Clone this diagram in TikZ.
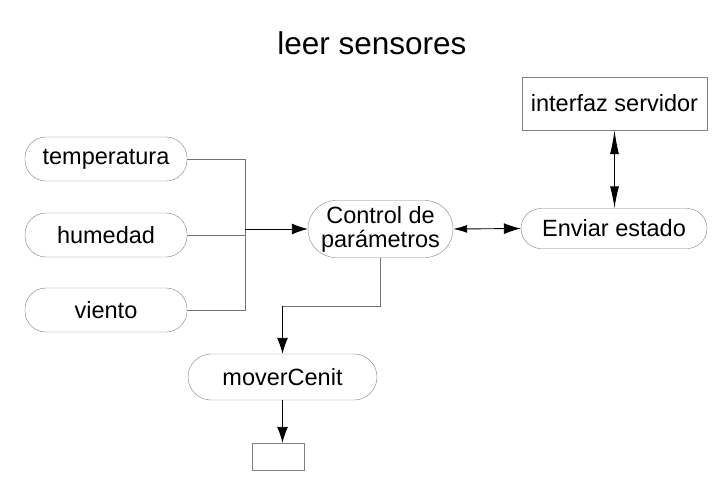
\documentclass[tikz,border=0pt]{standalone}
\usepackage{fontspec}
\setmainfont{Liberation Sans}
\usetikzlibrary{arrows.meta,positioning}

\begin{document}
\begin{tikzpicture}
    [ x=1pt, y=-1pt,
      font={\fontsize{23.5}{25}\selectfont},
      sensor/.style={draw=gray, rounded corners=21pt, minimum width=162pt,
                     minimum height=44pt, inner sep=0pt},
      process/.style={draw=gray, rounded corners=22pt, inner sep=0pt,
                      align=center},
      box/.style={draw=gray, inner sep=0pt},
      feed/.style={gray!90!black, line width=.9pt},
      flow/.style={black, line width=.9pt, -{Latex[length=16pt,width=11pt]}},
      duplex/.style={black, line width=.9pt,
                     {Latex[length=14pt,width=8pt]}-{Latex[length=17pt,width=11pt]}},
      uplink/.style={black, line width=.9pt,
                     {Latex[length=24pt,width=9pt]}-{Latex[length=22pt,width=9pt]}}
    ]
    \useasboundingbox (0, 0) rectangle (719, 479);

    % Title
    \node[font={\fontsize{31.5}{33}\selectfont}] (title) at (372, 43) {leer sensores};

    % Sensors
    \node[sensor] (temperatura) at (106, 159) {temperatura};
    \node[sensor] (humedad) at (106, 235) {humedad};
    \node[sensor] (viento) at (106, 310) {viento};

    % Processes
    \node[process, minimum width=145pt, minimum height=57pt,
          rounded corners=28pt] (control) at (380.5, 229) {Control de\\[-1pt]par\'ametros};
    \node[process, minimum width=186pt, minimum height=40pt,
          rounded corners=20pt] (enviar) at (614, 228.5) {Enviar estado};
    \node[process, minimum width=189pt, minimum height=46pt,
          rounded corners=23pt] (mover) at (282.5, 377) {moverCenit};

    % Boxes
    \node[box, minimum width=185pt, minimum height=53pt] (servidor)
        at (614.5, 103.5) {interfaz servidor};
    \node[box, minimum width=52pt, minimum height=27pt] (salida)
        at (278, 456.5) {};

    % Sensor bus
    \coordinate (bus) at (245, 229);
    \draw[feed] (temperatura.east) -| (bus);
    \draw[feed] (viento.east) -| (bus);
    \draw[feed] (humedad.east) -- (humedad.east -| bus);
    \draw[flow] (bus) -- (control.west);

    % Data flow
    \draw[duplex] (control.east) -- (enviar.west);
    \draw[uplink] (servidor.south) -- (servidor.south |- enviar.north);
    \coordinate (elbow) at (control.south |- 0, 306);
    \draw[feed] (control.south) -- (elbow) -- (elbow -| mover.north);
    \draw[flow] (elbow -| mover.north) -- (mover.north);
    \draw[flow] (mover.south) -- (mover.south |- salida.north);

\end{tikzpicture}
\end{document}
